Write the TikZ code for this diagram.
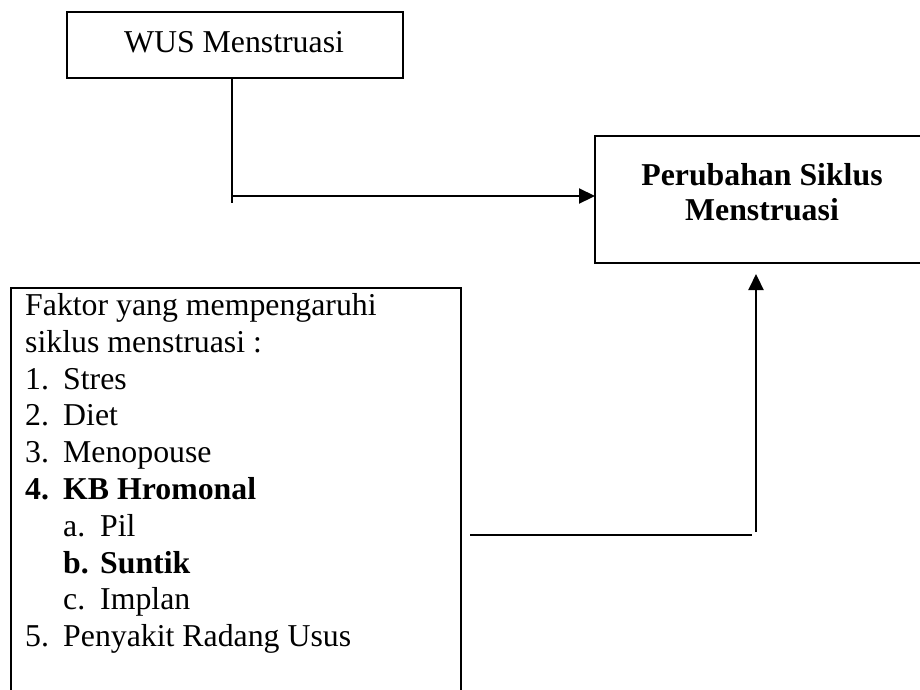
\documentclass[tikz,border=0pt]{standalone}
\usepackage{fontspec}
\setmainfont{Liberation Serif}
\usetikzlibrary{arrows.meta}
\tikzset{
  txt/.style={inner sep=0pt, font=\fontsize{31.8}{36}\selectfont},
  lt/.style={txt, anchor=base west},
  ct/.style={txt, anchor=base},
  bft/.style={font=\fontsize{31.8}{36}\selectfont\bfseries},
  boxline/.style={draw, line width=2.2pt},
  conn/.style={line width=2.2pt},
  arr/.style={conn, -{Triangle[length=16pt,width=15pt]}}
}
\begin{document}
\begin{tikzpicture}[x=1pt,y=-1pt]
\useasboundingbox (0,0) rectangle (920,689);
% boxes
\draw[boxline] (67,12) rectangle (403,78);
\coordinate (wus) at (235,78);
\node[ct] (wust) at (234,52) {WUS Menstruasi};
\draw[boxline] (595,136) rectangle (935,263);
\coordinate (resw) at (595,199);
\node[ct, bft] (res1) at (762,185) {Perubahan Siklus};
\node[ct, bft] (res2) at (762,220) {Menstruasi};
\draw[boxline] (11,720) -- (11,288) -- (461,288) -- (461,720);
% list
\node[lt] (f1) at (25,315.5) {Faktor yang mempengaruhi};
\node[lt] (f2) at (25,352.3) {siklus menstruasi :};
\node[lt] (n1) at (25,389.1) {1.};  \node[lt] (t1) at (63,389.1) {Stres};
\node[lt] (n2) at (25,425.9) {2.};  \node[lt] (t2) at (63,425.9) {Diet};
\node[lt] (n3) at (25,462.7) {3.};  \node[lt] (t3) at (63,462.7) {Menopouse};
\node[lt, bft] (n4) at (25,499.5) {4.};
\node[lt, bft] (t4) at (63,499.5) {KB Hromonal};
\node[lt] (na) at (63,536.3) {a.};  \node[lt] (ta) at (100,536.3) {Pil};
\node[lt, bft] (nb) at (63,573.1) {b.};
\node[lt, bft] (tb) at (100,573.1) {Suntik};
\node[lt] (nc) at (63,609.9) {c.};  \node[lt] (tc) at (100,609.9) {Implan};
\node[lt] (n5) at (25,646.7) {5.};  \node[lt] (t5) at (63,646.7) {Penyakit Radang Usus};
% connectors
\coordinate (j1) at (232,196);
\coordinate (j0) at (232,203);
\draw[conn] (wus -| j1) -- (j0);
\draw[arr] (j1) -- (j1 -| resw);
\coordinate (k0) at (470,535);
\coordinate (k1) at (752,535);
\coordinate (k2) at (756,532);
\coordinate (k3) at (756,274);
\draw[conn] (k0) -- (k1);
\draw[arr] (k2) -- (k3);
\end{tikzpicture}
\end{document}
